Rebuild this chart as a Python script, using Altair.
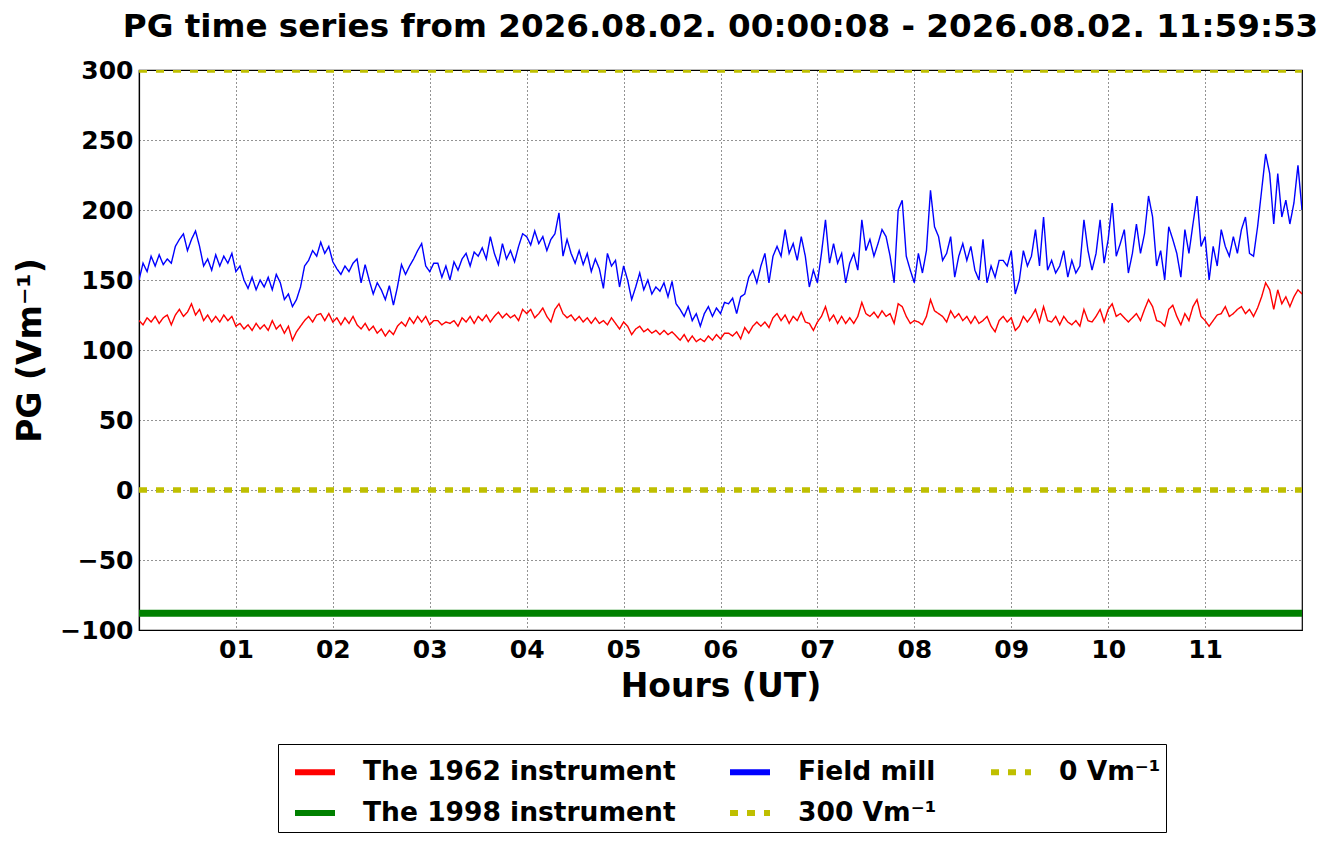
import altair as alt
import pandas as pd

# 2.5-minute samples, hours 0..12 (24 values per hour row)
field_mill = [
    150, 162, 156, 167, 160, 168, 161, 165, 162, 174, 179, 183, 171, 179, 185, 174, 160, 165, 157, 168, 160, 167, 162, 169,
    156, 160, 150, 144, 152, 143, 150, 145, 152, 143, 154, 148, 136, 140, 131, 136, 145, 160, 164, 171, 167, 177, 169, 174,
    163, 158, 154, 160, 156, 162, 165, 148, 161, 150, 140, 148, 143, 136, 146, 132, 145, 161, 154, 160, 165, 171, 176, 160,
    156, 162, 162, 152, 160, 150, 163, 157, 165, 169, 160, 170, 167, 173, 165, 181, 169, 161, 176, 165, 171, 163, 174, 183,
    181, 175, 185, 176, 181, 171, 179, 183, 198, 167, 179, 169, 162, 171, 161, 169, 156, 165, 158, 144, 169, 160, 164, 145,
    160, 150, 136, 145, 155, 143, 150, 140, 145, 142, 148, 138, 149, 133, 129, 124, 131, 121, 126, 117, 126, 131, 124, 130,
    126, 134, 133, 137, 126, 138, 140, 152, 157, 148, 160, 169, 148, 167, 174, 167, 186, 169, 176, 164, 181, 167, 145, 157,
    148, 169, 193, 162, 176, 162, 169, 148, 162, 169, 157, 193, 171, 179, 167, 176, 186, 181, 167, 148, 200, 207, 167, 157,
    148, 169, 155, 171, 214, 188, 181, 164, 169, 181, 152, 167, 176, 164, 174, 157, 150, 179, 148, 160, 152, 164, 164, 160,
    171, 140, 150, 171, 160, 167, 186, 160, 195, 157, 164, 155, 160, 171, 152, 164, 155, 160, 193, 171, 157, 169, 193, 162,
    179, 205, 167, 176, 186, 155, 169, 190, 169, 183, 210, 195, 160, 171, 150, 188, 179, 169, 152, 186, 169, 190, 210, 174,
    181, 150, 174, 160, 186, 174, 167, 181, 169, 186, 195, 169, 167, 188, 214, 240, 226, 190, 226, 195, 207, 190, 205, 232,
    200,
]
instr_1962 = [
    121, 118, 123, 120, 124, 119, 123, 125, 118, 125, 129, 124, 127, 133, 125, 129, 121, 125, 120, 124, 120, 125, 121, 124,
    117, 119, 115, 118, 114, 119, 115, 118, 114, 121, 115, 118, 112, 117, 107, 113, 117, 121, 124, 120, 125, 126, 121, 126,
    120, 123, 118, 123, 119, 124, 118, 115, 119, 114, 117, 112, 115, 110, 114, 111, 117, 120, 117, 123, 119, 124, 120, 124,
    118, 121, 121, 118, 120, 119, 121, 117, 123, 120, 124, 119, 124, 121, 125, 120, 124, 127, 123, 126, 123, 125, 121, 129,
    126, 129, 123, 126, 130, 124, 120, 129, 133, 126, 123, 125, 121, 124, 120, 123, 119, 123, 119, 121, 118, 123, 119, 115,
    120, 117, 111, 115, 117, 113, 115, 112, 114, 111, 114, 111, 113, 110, 107, 111, 106, 110, 106, 108, 106, 110, 107, 111,
    108, 112, 112, 110, 113, 108, 116, 112, 117, 120, 117, 120, 116, 123, 126, 121, 125, 119, 124, 121, 127, 120, 119, 114,
    120, 124, 131, 121, 125, 119, 124, 119, 123, 119, 124, 134, 126, 124, 127, 123, 128, 124, 126, 119, 133, 131, 124, 119,
    121, 120, 118, 124, 136, 128, 126, 124, 120, 128, 123, 126, 121, 124, 119, 124, 119, 121, 124, 117, 113, 121, 124, 120,
    123, 114, 117, 124, 120, 124, 129, 120, 131, 121, 120, 124, 118, 124, 120, 118, 121, 117, 129, 121, 120, 124, 129, 120,
    129, 133, 124, 126, 123, 120, 123, 126, 121, 129, 136, 131, 121, 120, 117, 129, 132, 124, 118, 126, 121, 131, 136, 124,
    121, 117, 121, 125, 126, 131, 124, 126, 129, 131, 126, 129, 124, 130, 138, 148, 143, 129, 143, 133, 138, 131, 138, 143,
    140,
]
hours = [i / 24 for i in range(len(field_mill))]

line_ends = [0, 12]
instr_1998 = [-88, -88]
ref_300 = [300, 300]
ref_0 = [0, 0]

L1962 = "The 1962 instrument"
L1998 = "The 1998 instrument"
LFM = "Field mill"
L300 = "300 Vm⁻¹"
L0 = "0 Vm⁻¹"

rows = []
for h, v in zip(hours, instr_1962):
    rows.append({"h": h, "v": v, "s": L1962})
for h, v in zip(line_ends, instr_1998):
    rows.append({"h": h, "v": v, "s": L1998})
for h, v in zip(hours, field_mill):
    rows.append({"h": h, "v": v, "s": LFM})
for h, v in zip(line_ends, ref_300):
    rows.append({"h": h, "v": v, "s": L300})
for h, v in zip(line_ends, ref_0):
    rows.append({"h": h, "v": v, "s": L0})
df = pd.DataFrame(rows)

order = [L1962, L1998, LFM, L300, L0]
colors = ["#ff0000", "#008000", "#0000ff", "#bfbf00", "#bfbf00"]
dashes = [[1, 0], [1, 0], [1, 0], [8, 9], [8, 9]]

leg = alt.Legend(
    title=None, orient="none", legendX=139, legendY=674, columns=3, gridAlign="each",
    columnPadding=42, rowPadding=4, symbolType="stroke", symbolSize=1600,
    symbolStrokeWidth=6, symbolOffset=9, labelFont="DejaVu Sans", labelFontWeight="bold",
    labelFontSize=26.5, labelLimit=600, labelOffset=25, strokeColor="black",
    fillColor="white", padding=5,
)

base = alt.Chart(df).encode(
    x=alt.X("h:Q", scale=alt.Scale(domain=[0, 12], nice=False),
            axis=alt.Axis(values=list(range(1, 12)),
                          labelExpr="datum.value < 10 ? '0' + datum.value : '' + datum.value",
                          title="Hours (UT)")),
    y=alt.Y("v:Q", scale=alt.Scale(domain=[-100, 300], nice=False),
            axis=alt.Axis(values=list(range(-100, 301, 50)), title="PG (Vm⁻¹)")),
    color=alt.Color("s:N", scale=alt.Scale(domain=order, range=colors), legend=leg),
    strokeDash=alt.StrokeDash("s:N", scale=alt.Scale(domain=order, range=dashes), legend=leg),
    detail="s:N",
)

thin = base.transform_filter(
    alt.FieldOneOfPredicate(field="s", oneOf=[L1962, LFM])
).mark_line(strokeWidth=1.4, clip=True)
green = base.transform_filter(
    alt.FieldOneOfPredicate(field="s", oneOf=[L1998])
).mark_line(strokeWidth=7, clip=True)
yellow = base.transform_filter(
    alt.FieldOneOfPredicate(field="s", oneOf=[L300, L0])
).mark_line(strokeWidth=5.5, clip=True)

chart = alt.layer(thin, green, yellow).properties(
    width=1163, height=560,
    title=alt.TitleParams("PG time series from 2026.08.02. 00:00:08 - 2026.08.02. 11:59:53",
                          font="DejaVu Sans", fontSize=32.6, fontWeight="bold", offset=14,
                          anchor="middle", color="black"),
    autosize=alt.AutoSizeParams(type="none"),
    padding={"left": 131, "top": 62, "right": 31, "bottom": 205},
).configure_axis(
    domainColor="black", domainWidth=1.2, ticks=False,
    grid=True, gridColor="black", gridDash=[1, 3], gridWidth=1, gridOpacity=0.85,
    labelFont="DejaVu Sans", labelFontWeight="bold", labelFontSize=25, labelColor="black",
    titleFont="DejaVu Sans", titleFontWeight="bold", titleFontSize=33, titleColor="black",
    labelPadding=6,
).configure_axisX(
    titlePadding=8, labelPadding=7,
).configure_axisY(
    titlePadding=12,
).configure_view(
    stroke="black", strokeWidth=1.2,
)

chart.save("out.html", embed_options={"renderer": "svg", "actions": False})
